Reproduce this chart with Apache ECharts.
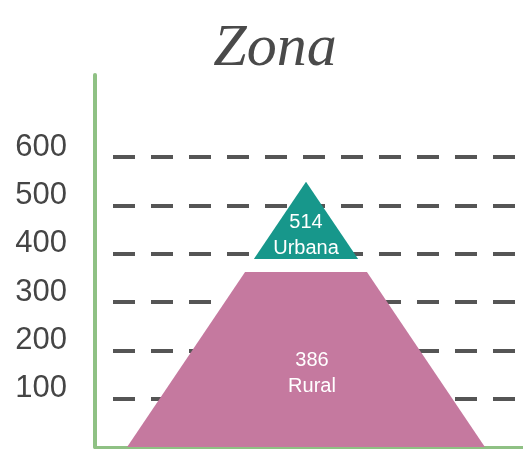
<!DOCTYPE html>
<html>
<head>
<meta charset="utf-8">
<script src="https://cdn.jsdelivr.net/npm/echarts@6/dist/echarts.min.js"></script>
<style>
  html, body { margin: 0; padding: 0; background: #fff; }
  #chart { width: 523px; height: 450px; }
</style>
</head>
<body>
<div id="chart"></div>
<script>
// data
const zones = ['Rural', 'Urbana']
const counts = [386, 514]
// layer extents of the pyramid, in y-axis units
const layerBottom = [0, 389]
const layerTop = [362, 549]
const yTicks = [100, 200, 300, 400, 500, 600]

// pyramid geometry (axis units)
const apexX = 49.3
const apexY = 549
const baseHalfWidth = 41.8

const colors = ['#c5799f', '#17978b']
const labelOffsets = [[6, 14], [0, 15]]

const chart = echarts.init(document.getElementById('chart'))

const halfWidthAt = (y) => baseHalfWidth * (apexY - y) / apexY

const renderLayer = (params, api) => {
  const i = params.dataIndex
  const y0 = api.value(1)
  const y1 = api.value(2)
  const w0 = halfWidthAt(y0)
  const w1 = halfWidthAt(y1)
  const pts = [
    api.coord([apexX - w0, y0]),
    api.coord([apexX + w0, y0]),
    api.coord([apexX + w1, y1]),
    api.coord([apexX - w1, y1]),
  ]
  return {
    type: 'polygon',
    shape: { points: pts },
    style: { fill: colors[i] },
    textContent: {
      style: {
        text: api.value(3) + '\n' + zones[i],
        fill: '#fff',
        fontSize: 20,
        lineHeight: 26,
        fontFamily: 'Liberation Sans, Arial, sans-serif',
        align: 'center',
      },
    },
    textConfig: {
      position: 'inside',
      offset: labelOffsets[i],
    },
  }
}

const option = {
  animation: false,
  title: {
    text: 'Zona',
    left: 270,
    top: 14,
    textAlign: 'center',
    textStyle: {
      fontFamily: 'Liberation Serif, DejaVu Serif, serif',
      fontStyle: 'italic',
      fontWeight: 'normal',
      fontSize: 60,
      color: '#4a4a4a',
    },
  },
  grid: {
    left: 95,
    right: 0,
    top: 75,
    bottom: 3,
  },
  xAxis: {
    type: 'value',
    min: 0,
    max: 100,
    axisLine: { show: true, lineStyle: { color: '#8fc184', width: 3 } },
    axisTick: { show: false },
    axisLabel: { show: false },
    splitLine: { show: false },
  },
  yAxis: {
    type: 'value',
    min: 0,
    max: 770,
    interval: 100,
    axisLine: { show: true, lineStyle: { color: '#8fc184', width: 4 } },
    axisTick: { show: false },
    axisLabel: {
      formatter: (v) => (yTicks.includes(v) ? String(v) : ''),
      fontSize: 31,
      fontFamily: 'Liberation Sans, Arial, sans-serif',
      color: '#454545',
      margin: 28,
      verticalAlign: 'bottom',
      lineHeight: 20,
    },
    splitLine: {
      show: true,
      lineStyle: {
        color: ['rgba(0,0,0,0)', '#555', '#555', '#555', '#555', '#555', '#555', 'rgba(0,0,0,0)'],
        width: 4,
        type: [22, 16],
        dashOffset: 20,
      },
    },
  },
  series: [
    {
      type: 'custom',
      renderItem: renderLayer,
      encode: { x: -1, y: [1, 2] },
      data: zones.map((z, i) => [i, layerBottom[i], layerTop[i], counts[i]]),
      z: 3,
    },
  ],
}

chart.setOption(option)
</script>
</body>
</html>
